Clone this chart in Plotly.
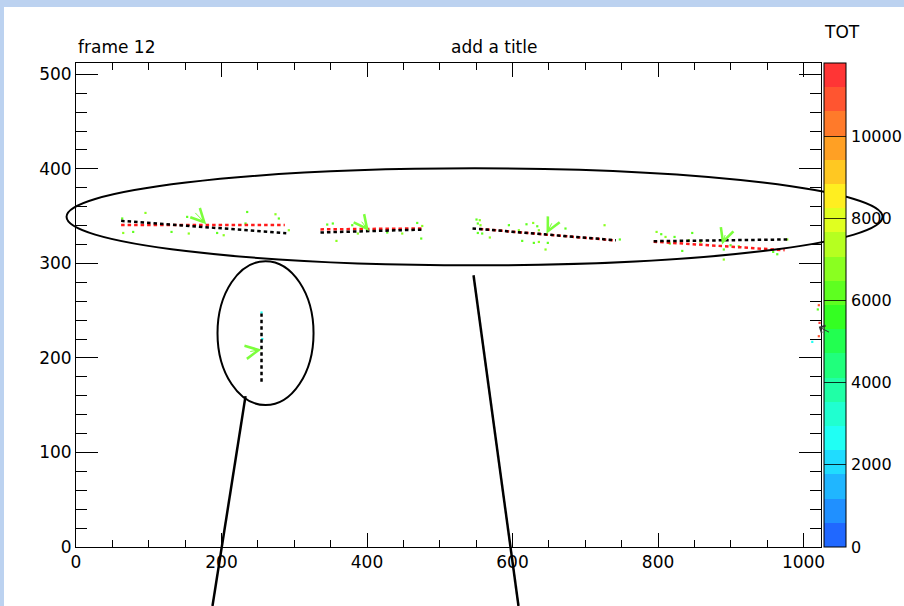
import plotly.graph_objects as go

# ---------------- data ----------------
X_RANGE = [0, 1024]
Y_RANGE = [0, 512]
TOT_MAX = 11800
TOT_TICKS = [0, 2000, 4000, 6000, 8000, 10000]

# straight-line track fits: black (dotted) and red (dotted)
black_x0 = [62, 336, 545, 794, 255]
black_x1 = [289, 478, 742, 978, 255]
black_y0 = [345.0, 332.7, 337.0, 323.5, 174.7]
black_y1 = [332.0, 335.8, 324.5, 325.3, 247.0]

red_x0 = [62, 336, 555, 794]
red_x1 = [287, 478, 742, 974]
red_y0 = [340.5, 336.0, 336.5, 323.0]
red_y1 = [340.5, 337.0, 324.3, 314.0]

# green direction arrows (tip on the track, tail away from it)
arrow_tip_x = [179, 402.5, 646.7, 888, 255]
arrow_tip_y = [341.4, 334.4, 331.4, 320.0, 209.0]
arrow_tail_x = [162, 391, 655, 893, 237.5]
arrow_tail_y = [355.0, 345.7, 344.0, 331.6, 206.5]

# hit pixels (x, y, TOT)
hit_x = [63.5, 95.5, 152.8, 64.9, 78.6, 131.3, 155.0, 194.0, 203.0, 235.3, 233.0, 274.2, 278.8, 292.5,
         345.3, 353.0, 358.0, 379.7, 387.4, 427.8, 448.4, 469.0, 475.9, 474.5,
         550.5, 555.0, 552.3, 556.0, 552.3, 558.3, 568.8, 595.0, 608.7, 619.2, 628.4, 634.0, 636.2,
         613.3, 629.3, 636.2, 648.5, 645.4, 672.8, 726.5, 747.5,
         798.0, 804.4, 810.3, 822.7, 847.0, 842.3, 833.3, 858.4, 890.4, 890.4, 899.7, 911.0,
         958.3, 963.9, 977.6, 816.2,
         255.0, 256.0,
         1021.0, 1019.6, 1022.0, 1021.0, 1012.0]
hit_y = [347.5, 353.4, 349.2, 332.2, 333.3, 333.3, 331.6, 332.2, 329.8, 354.4, 342.2, 352.0, 347.5, 335.1,
         341.1, 342.2, 323.8, 340.4, 331.6, 332.7, 331.6, 342.8, 339.6, 326.3,
         346.4, 345.7, 342.2, 340.4, 332.2, 331.6, 327.4, 340.4, 335.1, 341.4, 342.8, 339.3, 335.1,
         323.8, 321.7, 322.7, 321.7, 314.7, 336.9, 340.4, 325.3,
         333.3, 330.9, 328.0, 328.0, 332.2, 324.5, 313.2, 322.7, 314.7, 304.1, 319.2, 318.2,
         312.2, 309.7, 325.3, 321.0,
         248.0, 220.0,
         255.8, 251.3, 237.1, 223.0, 217.0]
hit_tot = [6200, 6500, 6100, 6800, 6300, 6000, 6600, 6200, 6900, 6400, 6100, 6700, 6300, 6500,
           6400, 6200, 6800, 6000, 6500, 6300, 6600, 6100, 6900, 6400,
           6300, 6600, 6100, 6800, 6400, 6200, 6700, 6000, 6500, 6300, 6900, 6100, 6600,
           6400, 6200, 6800, 6000, 6500, 6300, 6700, 6100,
           6500, 6200, 6800, 6100, 6400, 6600, 6300, 6900, 6000, 6500, 6200, 6700,
           6400, 6100, 6600, 6300,
           2500, 2700,
           10900, 6300, 11500, 11100, 2600]

# annotation ellipses / pointer lines (data units)
big_ellipse = [-13, 298, 1108.6, 400.6]      # x0, y0, x1, y1
small_ellipse = [194.5, 150.1, 326.5, 302.3]
pointer_lines = [[233, 159.6, 187.6, -62.4], [546.4, 287.5, 608.2, -62.4]]

# ---------------- styling ----------------
W, H = 904, 606
L, R, T, B = 76, 83, 63, 59
PW, PH = W - L - R, H - T - B
FONT = "DejaVu Sans"
FS = 17

band_colors = ["#2068ff", "#2090ff", "#20b6ff", "#20dcff", "#20fff4", "#20ffd0",
               "#20ffa6", "#20ff7c", "#22ff50", "#34ff22", "#5eff20", "#8aff20",
               "#b6ff20", "#e0ff20", "#ffee20", "#ffc822", "#ffa024", "#ff7a2a",
               "#ff5530", "#ff3535"]
nb = len(band_colors)
colorscale = []
for i, c in enumerate(band_colors):
    colorscale.append([i / nb, c])
    colorscale.append([(i + 1) / nb, c])


def seg(x0, x1, y0, y1):
    xs, ys = [], []
    for a, b, c, d in zip(x0, x1, y0, y1):
        xs += [a, b, None]
        ys += [c, d, None]
    return xs, ys


def px_x(v):
    return (v - X_RANGE[0]) / (X_RANGE[1] - X_RANGE[0])


def px_y(v):
    return (v - Y_RANGE[0]) / (Y_RANGE[1] - Y_RANGE[0])


fig = go.Figure()

fig.add_trace(go.Scatter(
    x=hit_x, y=hit_y, mode="markers", cliponaxis=False,
    marker=dict(symbol="square", size=2.2, color=hit_tot, colorscale=colorscale,
                cmin=0, cmax=TOT_MAX, line=dict(width=0), showscale=True,
                colorbar=dict(x=(824 - L) / PW, xanchor="left", xpad=0, ypad=0,
                              y=0.5, yanchor="middle", len=1, lenmode="fraction",
                              thickness=22, thicknessmode="pixels",
                              outlinewidth=1, outlinecolor="black",
                              tickvals=TOT_TICKS, showticklabels=False,
                              ticks="inside", ticklen=22, tickwidth=1,
                              tickcolor="rgba(0,0,0,0.8)")),
    showlegend=False, hoverinfo="skip"))

rx, ry = seg(red_x0, red_x1, red_y0, red_y1)
fig.add_trace(go.Scatter(x=rx, y=ry, mode="lines",
                         line=dict(color="#ff1a1a", width=2.5, dash="3.5px,3px"),
                         showlegend=False, hoverinfo="skip"))
bx, by = seg(black_x0, black_x1, black_y0, black_y1)
fig.add_trace(go.Scatter(x=bx, y=by, mode="lines",
                         line=dict(color="black", width=2.5, dash="3.5px,3px"),
                         showlegend=False, hoverinfo="skip"))

annotations = []
for tx, ty, ax, ay in zip(arrow_tip_x, arrow_tip_y, arrow_tail_x, arrow_tail_y):
    annotations.append(dict(x=tx, y=ty, ax=ax, ay=ay, xref="x", yref="y",
                            axref="x", ayref="y", text="", showarrow=True,
                            arrowhead=5, arrowsize=2.6, arrowwidth=1,
                            arrowcolor="#7cff3c"))
# small black pointer near the right frame edge
annotations.append(dict(x=1021, y=232.9, ax=1037, ay=226.5, xref="x", yref="y",
                        axref="x", ayref="y", text="", showarrow=True,
                        arrowhead=4, arrowsize=1.6, arrowwidth=1, arrowcolor="#333333"))

# colour-bar tick labels (as text so the colour bar does not push the plot margin)
for v in TOT_TICKS:
    annotations.append(dict(text=str(v), x=(850 - L) / PW, xref="paper", xanchor="left",
                            y=v / TOT_MAX, yref="paper", yanchor="middle", showarrow=False,
                            borderpad=0, font=dict(family=FONT, size=16, color="black")))

annotations += [
    dict(text="frame 12", x=0, xref="paper", xanchor="left",
         y=(547 - 59) / PH, yref="paper", yanchor="bottom", showarrow=False,
         font=dict(family=FONT, size=FS, color="black")),
    dict(text="add a title", x=(494 - L) / PW, xref="paper", xanchor="center",
         y=(547 - 59) / PH, yref="paper", yanchor="bottom", showarrow=False,
         font=dict(family=FONT, size=FS, color="black")),
    dict(text="TOT", x=(842 - L) / PW, xref="paper", xanchor="center",
         y=(547 - 44) / PH, yref="paper", yanchor="bottom", showarrow=False,
         font=dict(family=FONT, size=FS, color="black")),
]

shapes = [
    # blue desktop border visible around the canvas
    dict(type="rect", xref="paper", yref="paper", layer="below",
         x0=-L / PW, x1=(W - L) / PW, y0=(547 - 7) / PH, y1=547 / PH,
         fillcolor="#bcd2f0", line=dict(width=0)),
    dict(type="rect", xref="paper", yref="paper", layer="below",
         x0=-L / PW, x1=(4 - L) / PW, y0=-B / PH, y1=547 / PH,
         fillcolor="#bcd2f0", line=dict(width=0)),
]
for e in (big_ellipse, small_ellipse):
    shapes.append(dict(type="circle", xref="paper", yref="paper",
                       x0=px_x(e[0]), x1=px_x(e[2]), y0=px_y(e[1]), y1=px_y(e[3]),
                       line=dict(color="black", width=2), layer="above"))
for pl in pointer_lines:
    shapes.append(dict(type="line", xref="paper", yref="paper",
                       x0=px_x(pl[0]), y0=px_y(pl[1]), x1=px_x(pl[2]), y1=px_y(pl[3]),
                       line=dict(color="black", width=2.5), layer="above"))

axis_common = dict(showline=True, linecolor="black", linewidth=1, mirror="allticks",
                   ticks="inside", tickcolor="black", tickwidth=1,
                   showgrid=False, zeroline=False,
                   tickfont=dict(family=FONT, size=FS, color="black"))

fig.update_layout(
    width=W, height=H, autosize=False, margin=dict(l=L, r=R, t=T, b=B, pad=0),
    paper_bgcolor="white", plot_bgcolor="white",
    xaxis=dict(range=X_RANGE, tick0=0, dtick=200, ticklen=14,
               minor=dict(ticks="inside", dtick=50, ticklen=7, tickcolor="black", showgrid=False),
               **axis_common),
    yaxis=dict(range=Y_RANGE, tick0=0, dtick=100, ticklen=22,
               minor=dict(ticks="inside", dtick=20, ticklen=11, tickcolor="black", showgrid=False),
               **axis_common),
    annotations=annotations, shapes=shapes, showlegend=False,
)

post = ("document.body.style.margin='0';document.body.style.padding='0';"
        "document.body.style.overflow='hidden';"
        "document.documentElement.style.overflow='hidden';")

fig.write_html("out.html", config={"responsive": False, "displayModeBar": False},
               post_script=post)
